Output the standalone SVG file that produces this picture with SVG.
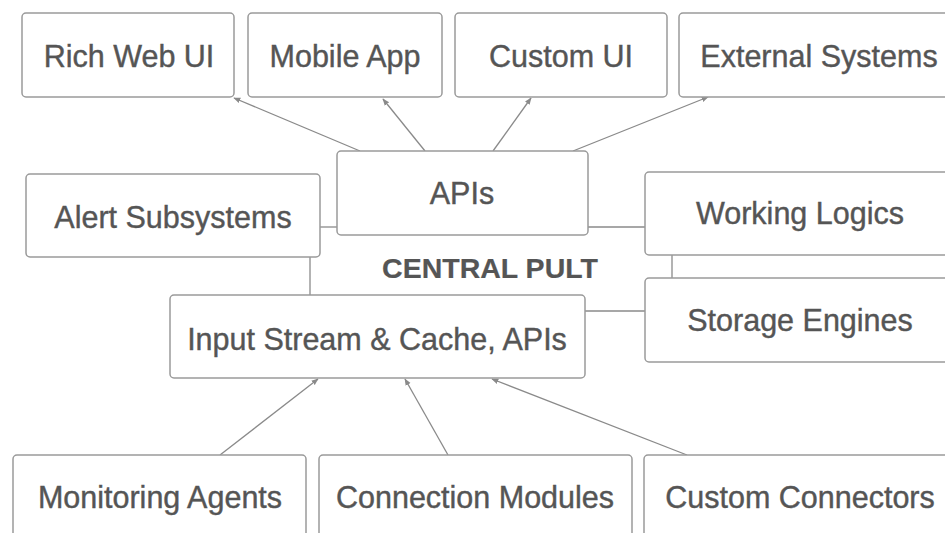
<svg xmlns="http://www.w3.org/2000/svg" width="945" height="533" viewBox="0 0 945 533">
<defs>
<style>
.box{fill:#fff;stroke:#9a9a9a;stroke-width:1.5}
.t{font-family:"Liberation Sans",Arial,sans-serif;font-size:30.5px;fill:#555;stroke:#555;stroke-width:0.4;text-anchor:middle}
.b{font-weight:bold;font-size:28.5px;stroke-width:0.2}
.c{stroke:#8a8a8a;stroke-width:1.3;fill:none}
.a{marker-end:url(#ah)}
</style>
<marker id="ah" viewBox="0 0 10 10" refX="9" refY="5" markerWidth="7" markerHeight="7" orient="auto" markerUnits="userSpaceOnUse">
<path d="M0,1 L10,5 L0,9 z" fill="#8a8a8a"/>
</marker>
</defs>
<rect width="945" height="533" fill="#fff"/>
<g id="connectors">
<line class="c a" x1="360" y1="151" x2="234" y2="98"/>
<line class="c a" x1="425" y1="151" x2="383" y2="99"/>
<line class="c a" x1="493" y1="151" x2="531" y2="98"/>
<line class="c a" x1="573" y1="151" x2="708" y2="97"/>
<line class="c" x1="320" y1="227" x2="337" y2="227"/>
<line class="c" x1="310" y1="257" x2="310" y2="295"/>
<line class="c" x1="588" y1="227" x2="645" y2="227"/>
<line class="c" x1="672" y1="255" x2="672" y2="278"/>
<line class="c" x1="585" y1="311" x2="645" y2="311"/>
<line class="c a" x1="220" y1="455" x2="318" y2="379"/>
<line class="c a" x1="448" y1="455" x2="405" y2="379"/>
<line class="c a" x1="687" y1="455" x2="492" y2="379"/>
</g>
<g id="rich-web-ui"><rect class="box" x="22" y="13" width="212" height="84" rx="4"/><text class="t" x="129" y="67">Rich Web UI</text></g>
<g id="mobile-app"><rect class="box" x="248" y="13" width="194" height="84" rx="4"/><text class="t" x="345" y="67">Mobile App</text></g>
<g id="custom-ui"><rect class="box" x="455" y="13" width="212" height="84" rx="4"/><text class="t" x="561" y="67">Custom UI</text></g>
<g id="external-systems"><rect class="box" x="679" y="13" width="280" height="84" rx="4"/><text class="t" x="819" y="67">External Systems</text></g>
<g id="apis"><rect class="box" x="337" y="151" width="251" height="84" rx="4"/><text class="t" x="462" y="204">APIs</text></g>
<g id="alert-subsystems"><rect class="box" x="26" y="174" width="294" height="83" rx="4"/><text class="t" x="173" y="228">Alert Subsystems</text></g>
<g id="working-logics"><rect class="box" x="645" y="172" width="310" height="83" rx="4"/><text class="t" x="800" y="224">Working Logics</text></g>
<g id="central-pult"><text class="t b" x="490" y="278">CENTRAL PULT</text></g>
<g id="storage-engines"><rect class="box" x="645" y="278" width="310" height="84" rx="4"/><text class="t" x="800" y="331">Storage Engines</text></g>
<g id="input-stream"><rect class="box" x="170" y="295" width="415" height="83" rx="4"/><text class="t" x="377" y="350">Input Stream &amp; Cache, APIs</text></g>
<g id="monitoring-agents"><rect class="box" x="13" y="455" width="293" height="95" rx="4"/><text class="t" x="160" y="508">Monitoring Agents</text></g>
<g id="connection-modules"><rect class="box" x="319" y="455" width="313" height="95" rx="4"/><text class="t" x="475" y="508">Connection Modules</text></g>
<g id="custom-connectors"><rect class="box" x="644" y="455" width="310" height="95" rx="4"/><text class="t" x="800" y="508">Custom Connectors</text></g>
</svg>
